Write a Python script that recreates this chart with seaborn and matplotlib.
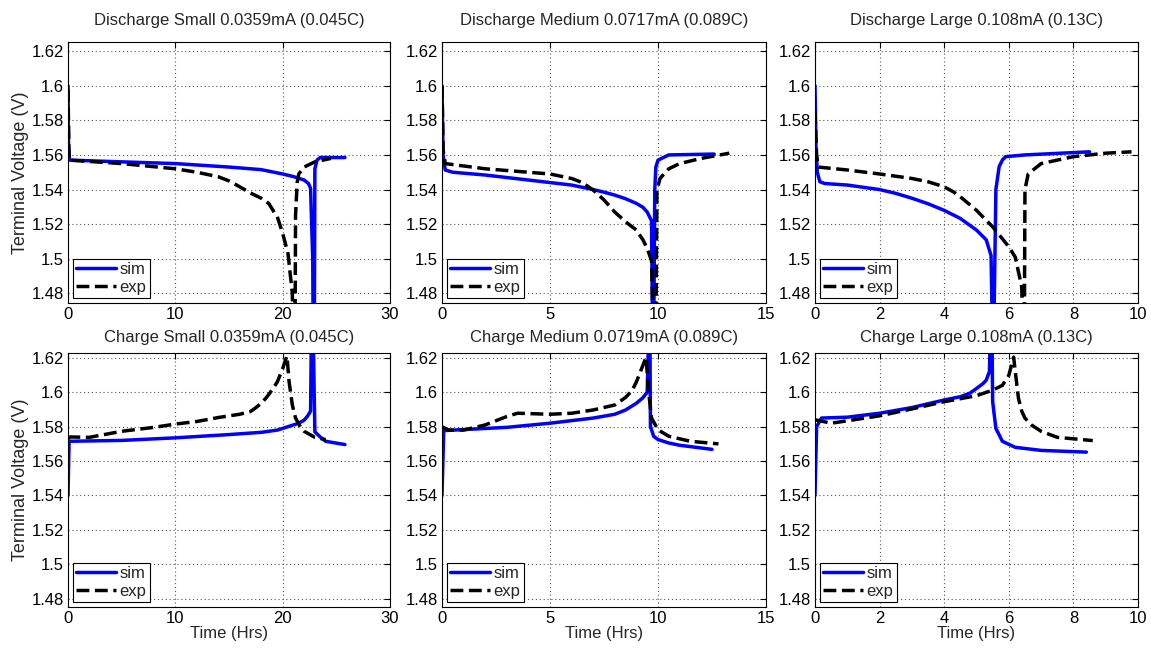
import numpy as np
import pandas as pd
import matplotlib
matplotlib.use("Agg")
import matplotlib.pyplot as plt
import seaborn as sns
from matplotlib.ticker import FuncFormatter

# ---------------- data ----------------
titles = [
    "Discharge Small 0.0359mA (0.045C)",
    "Discharge Medium 0.0717mA (0.089C)",
    "Discharge Large 0.108mA (0.13C)",
    "Charge Small 0.0359mA (0.045C)",
    "Charge Medium 0.0719mA (0.089C)",
    "Charge Large 0.108mA (0.13C)",
]
xlims = [30, 15, 10, 30, 15, 10]
xtick_steps = [10, 5, 2, 10, 5, 2]

# Discharge Small
ds_sim_t = [0, 0.05, 0.15, 5, 10, 15, 18, 20, 21, 22, 22.4, 22.6, 22.8, 22.85, 22.95, 23.0, 23.2, 23.5, 25.8]
ds_sim_v = [1.600, 1.565, 1.557, 1.556, 1.555, 1.553, 1.5515, 1.549, 1.5475, 1.5455, 1.5435, 1.5407, 1.50, 1.45, 1.45, 1.552, 1.557, 1.5585, 1.5585]
ds_exp_t = [0, 0.1, 5, 10, 12, 14, 15, 16, 17, 18, 18.7, 19.2, 19.5, 20, 20.5, 20.9, 21.0, 21.15, 21.2, 21.35, 21.5, 22, 23, 24.5]
ds_exp_v = [1.598, 1.557, 1.555, 1.552, 1.550, 1.5474, 1.545, 1.5416, 1.538, 1.535, 1.532, 1.527, 1.5243, 1.5147, 1.503, 1.480, 1.45, 1.45, 1.525, 1.544, 1.549, 1.553, 1.556, 1.558]

# Discharge Medium
dm_sim_t = [0, 0.05, 0.15, 0.5, 2, 4, 6, 7, 7.5, 8, 8.5, 9, 9.3, 9.5, 9.7, 9.75, 9.8, 9.85, 9.9, 10.0, 10.5, 12.6]
dm_sim_v = [1.600, 1.560, 1.5513, 1.550, 1.5484, 1.5455, 1.5426, 1.540, 1.5385, 1.5368, 1.5347, 1.532, 1.5298, 1.527, 1.522, 1.45, 1.45, 1.540, 1.553, 1.557, 1.560, 1.5605]
dm_exp_t = [0, 0.05, 0.15, 2, 4, 5, 6, 6.5, 7, 7.5, 8, 8.5, 9, 9.3, 9.5, 9.7, 9.8, 9.9, 9.95, 10.1, 10.5, 11, 12, 13.3]
dm_exp_v = [1.600, 1.563, 1.555, 1.552, 1.550, 1.549, 1.5464, 1.544, 1.5397, 1.534, 1.527, 1.5214, 1.5166, 1.511, 1.506, 1.499, 1.45, 1.45, 1.540, 1.5465, 1.552, 1.555, 1.558, 1.561]

# Discharge Large
dl_sim_t = [0, 0.03, 0.07, 0.15, 0.3, 1, 2, 2.5, 3, 3.5, 4, 4.5, 5, 5.3, 5.45, 5.5, 5.53, 5.6, 5.7, 5.8, 5.9, 6.5, 8.5]
dl_sim_v = [1.600, 1.565, 1.550, 1.5445, 1.5435, 1.5426, 1.540, 1.5378, 1.535, 1.5318, 1.528, 1.5233, 1.5166, 1.511, 1.502, 1.45, 1.45, 1.540, 1.5532, 1.557, 1.559, 1.560, 1.5618]
dl_exp_t = [0, 0.05, 0.1, 1, 2, 3, 3.5, 4, 4.3, 4.5, 5, 5.5, 6, 6.2, 6.4, 6.45, 6.48, 6.5, 6.6, 7, 8, 9, 9.8]
dl_exp_v = [1.585, 1.560, 1.553, 1.5513, 1.549, 1.5464, 1.5445, 1.5416, 1.5385, 1.5358, 1.528, 1.5185, 1.507, 1.501, 1.4838, 1.45, 1.45, 1.540, 1.549, 1.555, 1.559, 1.561, 1.5618]

# Charge Small
cs_sim_t = [0, 0.1, 5, 10, 15, 18, 19.5, 20.5, 21.5, 22.0, 22.3, 22.6, 22.7, 22.8, 23.0, 23.5, 24, 25.8]
cs_sim_v = [1.540, 1.5715, 1.572, 1.5735, 1.5754, 1.5767, 1.578, 1.580, 1.582, 1.5838, 1.586, 1.589, 1.65, 1.65, 1.577, 1.574, 1.5715, 1.5696]
cs_exp_t = [0, 0.2, 2, 5, 8, 10, 12, 14, 16, 17, 17.5, 18, 18.5, 19, 19.5, 20, 20.3, 20.4, 20.6, 20.9, 21.2, 21.6, 22, 23, 24]
cs_exp_v = [1.573, 1.574, 1.5738, 1.5773, 1.5796, 1.5815, 1.583, 1.5853, 1.5872, 1.5888, 1.591, 1.5936, 1.597, 1.6012, 1.606, 1.6137, 1.6194, 1.621, 1.606, 1.5926, 1.585, 1.5805, 1.5773, 1.5738, 1.5725]

# Charge Medium
cm_sim_t = [0, 0.08, 1, 3, 5, 7, 8, 8.5, 9, 9.3, 9.5, 9.6, 9.62, 9.65, 9.8, 10, 10.5, 11, 12.5]
cm_sim_v = [1.540, 1.5777, 1.5783, 1.5796, 1.582, 1.585, 1.5872, 1.5897, 1.5936, 1.5968, 1.600, 1.65, 1.65, 1.580, 1.5744, 1.5725, 1.5705, 1.5692, 1.5668]
cm_exp_t = [0, 0.3, 1, 2, 3, 3.5, 5, 6, 7, 8, 8.5, 8.8, 9, 9.3, 9.45, 9.55, 9.7, 10, 10.5, 11.5, 12.8]
cm_exp_v = [1.580, 1.578, 1.578, 1.581, 1.5859, 1.5878, 1.5872, 1.5878, 1.5897, 1.5926, 1.597, 1.601, 1.606, 1.6156, 1.6204, 1.602, 1.585, 1.5782, 1.5744, 1.5715, 1.570]

# Charge Large
cl_sim_t = [0, 0.05, 0.2, 1, 2, 3, 4, 4.5, 4.8, 5, 5.2, 5.3, 5.4, 5.45, 5.47, 5.5, 5.6, 5.8, 6.2, 7, 8.4]
cl_sim_v = [1.540, 1.580, 1.585, 1.5855, 1.5878, 1.5911, 1.5955, 1.5974, 1.5995, 1.6022, 1.605, 1.607, 1.612, 1.65, 1.65, 1.5945, 1.579, 1.5715, 1.568, 1.5662, 1.5652]
cl_exp_t = [0, 0.5, 1, 2, 3, 4, 5, 5.5, 5.8, 6, 6.15, 6.2, 6.3, 6.4, 6.5, 6.7, 7, 7.5, 8.6]
cl_exp_v = [1.584, 1.582, 1.5834, 1.5863, 1.5903, 1.5945, 1.598, 1.6012, 1.604, 1.6098, 1.6204, 1.612, 1.5964, 1.589, 1.585, 1.581, 1.5773, 1.5738, 1.5719]

panels = [
    (ds_sim_t, ds_sim_v, ds_exp_t, ds_exp_v),
    (dm_sim_t, dm_sim_v, dm_exp_t, dm_exp_v),
    (dl_sim_t, dl_sim_v, dl_exp_t, dl_exp_v),
    (cs_sim_t, cs_sim_v, cs_exp_t, cs_exp_v),
    (cm_sim_t, cm_sim_v, cm_exp_t, cm_exp_v),
    (cl_sim_t, cl_sim_v, cl_exp_t, cl_exp_v),
]
yticks = [1.48, 1.50, 1.52, 1.54, 1.56, 1.58, 1.60, 1.62]

# ---------------- figure ----------------
sns.set_style("white")
plt.rcParams["font.family"] = ["Liberation Sans", "DejaVu Sans"]
plt.rcParams["font.size"] = 12

W, H = 1151, 648
fig = plt.figure(figsize=(W / 100, H / 100), dpi=100)

col_left = [68, 442, 815]
col_w = [322, 324, 323]
rows = [(42, 303), (353, 607)]

for i, (st, sv, et, ev) in enumerate(panels):
    r, c = divmod(i, 3)
    top, bot = rows[r]
    ax = fig.add_axes([col_left[c] / W, 1 - bot / H, col_w[c] / W, (bot - top) / H])
    df = pd.concat([
        pd.DataFrame({"t": st, "v": sv, "series": "sim"}),
        pd.DataFrame({"t": et, "v": ev, "series": "exp"}),
    ], ignore_index=True)
    sns.lineplot(data=df[df.series == "sim"], x="t", y="v", sort=False, estimator=None,
                 color="#0000FF", linewidth=2.5, ax=ax, label="sim")
    sns.lineplot(data=df[df.series == "exp"], x="t", y="v", sort=False, estimator=None,
                 color="black", linewidth=2.5, linestyle="--", dashes=(2.6, 1.4), ax=ax, label="exp")
    ax.set_xlim(0, xlims[i])
    ax.set_xticks(np.arange(0, xlims[i] + 0.001, xtick_steps[i]))
    ax.xaxis.set_major_formatter(FuncFormatter(lambda x, p: f"{x:g}"))
    if r == 0:
        ax.set_ylim(1.4745, 1.6252)
    else:
        ax.set_ylim(1.4752, 1.6228)
    ax.set_yticks(yticks)
    ax.yaxis.set_major_formatter(FuncFormatter(lambda y, p: f"{y:g}"))
    ax.grid(True, linestyle=(0, (1, 2.5)), color="#555555", linewidth=0.8)
    ax.tick_params(direction="in", length=4, top=True, right=True, labelsize=12,
                   colors="black", width=0.8, pad=3)
    for sp in ax.spines.values():
        sp.set_color("black")
        sp.set_linewidth(0.8)
    ax.set_title(titles[i], fontsize=12, pad=12 if r == 0 else 8)
    ax.set_xlabel("Time (Hrs)" if r == 1 else "", fontsize=12, labelpad=0)
    ax.set_ylabel("Terminal Voltage (V)" if c == 0 else "", fontsize=13, labelpad=2)
    leg = ax.legend(loc="lower left", fontsize=12, handlelength=2.4, handletextpad=0.2,
                    borderpad=0.2, labelspacing=0.15, borderaxespad=0.3,
                    fancybox=False, framealpha=1)
    leg.get_frame().set_edgecolor("black")
    leg.get_frame().set_linewidth(0.8)

fig.savefig("out.png", dpi=100)
